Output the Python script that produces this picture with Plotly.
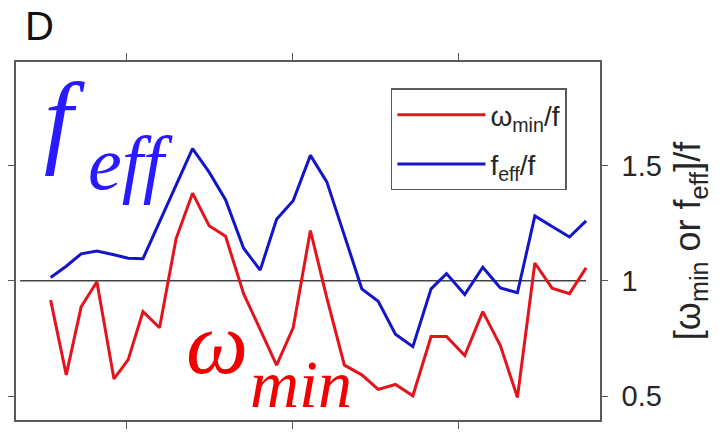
import plotly.graph_objects as go

# ---- data ----
x_pos = [0.40, 1.34, 2.24, 3.19, 4.22, 5.08, 5.97, 6.97, 7.97, 8.96, 9.96, 10.95,
         12.04, 13.04, 14.03, 15.03, 16.07, 17.06, 18.12, 19.17, 20.16, 21.20,
         22.25, 23.35, 24.28, 25.38, 26.47, 27.53, 28.56, 29.61, 30.65, 31.70, 32.70]
omega_min_over_f = [0.916, 0.592, 0.887, 0.996, 0.574, 0.658, 0.866, 0.796, 1.183, 1.380,
                    1.239, 1.193, 0.944, 0.789, 0.634, 0.796, 1.218, 0.926, 0.634, 0.592,
                    0.529, 0.550, 0.501, 0.758, 0.758, 0.676, 0.866, 0.719, 0.494, 1.077,
                    0.968, 0.944, 1.056]
f_eff_over_f = [1.014, 1.063, 1.117, 1.129, 1.113, 1.098, 1.096, 1.257, 1.418, 1.573,
                1.471, 1.352, 1.141, 1.046, 1.267, 1.347, 1.544, 1.429, 1.197, 0.965,
                0.911, 0.768, 0.714, 0.965, 1.031, 0.940, 1.059, 0.969, 0.948, 1.281,
                1.235, 1.190, 1.260]
x_tickvals = [5, 15, 25]
y_tickvals = [0.5, 1, 1.5]
y_ticktext = ["0.5", "1", "1.5"]
ref_level = 1.0
x_range = [-1.69, 33.54]
y_range = [0.396, 1.949]

RED = "#e4141c"
BLUE = "#1414c8"
AX = "#5a5a5a"
TXT = "#262626"

fig = go.Figure()
fig.add_trace(go.Scatter(x=x_pos, y=omega_min_over_f, mode="lines",
                         line=dict(color=RED, width=3), legendgroup="a",
                         name="\u03c9<sub>min</sub>/f"))
fig.add_trace(go.Scatter(x=x_pos, y=f_eff_over_f, mode="lines",
                         line=dict(color=BLUE, width=3), legendgroup="b",
                         name="f<sub>eff</sub>/f"))

# reference line at 1
fig.add_shape(type="line", xref="x", yref="y",
              x0=x_range[0] + 0.25, x1=x_pos[-1], y0=ref_level, y1=ref_level,
              line=dict(color="#444444", width=1.5), layer="below")

fig.update_layout(
    width=725, height=435,
    margin=dict(l=10, r=125, t=62, b=8),
    paper_bgcolor="white", plot_bgcolor="white",
    font=dict(family="Liberation Sans, Arial, sans-serif", color=TXT),
    showlegend=True,
    legend=dict(x=0.642, y=0.926, xanchor="left", yanchor="top",
                bgcolor="white", bordercolor=AX, borderwidth=1.5,
                font=dict(size=28, color=TXT), itemwidth=88,
                traceorder="grouped", tracegroupgap=10),
    xaxis=dict(range=x_range, tickvals=x_tickvals, showticklabels=False,
               ticks="outside", ticklen=7, tickcolor=AX, tickwidth=1.2,
               showline=True, linecolor=AX, linewidth=1.5, mirror="allticks",
               showgrid=False, zeroline=False),
    yaxis=dict(range=y_range, side="right", tickvals=y_tickvals, ticktext=y_ticktext,
               ticks="outside", ticklen=6, tickcolor=AX, tickwidth=1.2,
               tickfont=dict(size=29, color=TXT), ticklabelstandoff=8,
               showline=True, linecolor=AX, linewidth=1.5, mirror="allticks",
               showgrid=False, zeroline=False,
               title=dict(text="[\u03c9<sub>min</sub> or f<sub>eff</sub>]/f",
                          font=dict(size=36, color=TXT), standoff=14)),
)

serif = "Liberation Serif"
ann = [
    dict(text="D", x=0.012, y=1.168, xanchor="left", yanchor="top",
         font=dict(size=40, color="#111111", family="Liberation Sans")),
    dict(text="f", x=0.045, y=0.841, xanchor="left", yanchor="middle",
         font=dict(size=104, color="#2a1aff", family=serif, style="italic")),
    dict(text="eff", x=0.120, y=0.718, xanchor="left", yanchor="middle",
         font=dict(size=76, color="#2a1aff", family=serif, style="italic")),
    dict(text="\u03c9", x=0.288, y=0.213, xanchor="left", yanchor="middle",
         font=dict(size=88, color="#f00000", family=serif, style="italic")),
    dict(text="min", x=0.397, y=0.101, xanchor="left", yanchor="middle",
         font=dict(size=68, color="#f00000", family=serif, style="italic")),
]
for a in ann:
    fig.add_annotation(xref="paper", yref="paper", showarrow=False, **a)

fig.write_html("out.html")
